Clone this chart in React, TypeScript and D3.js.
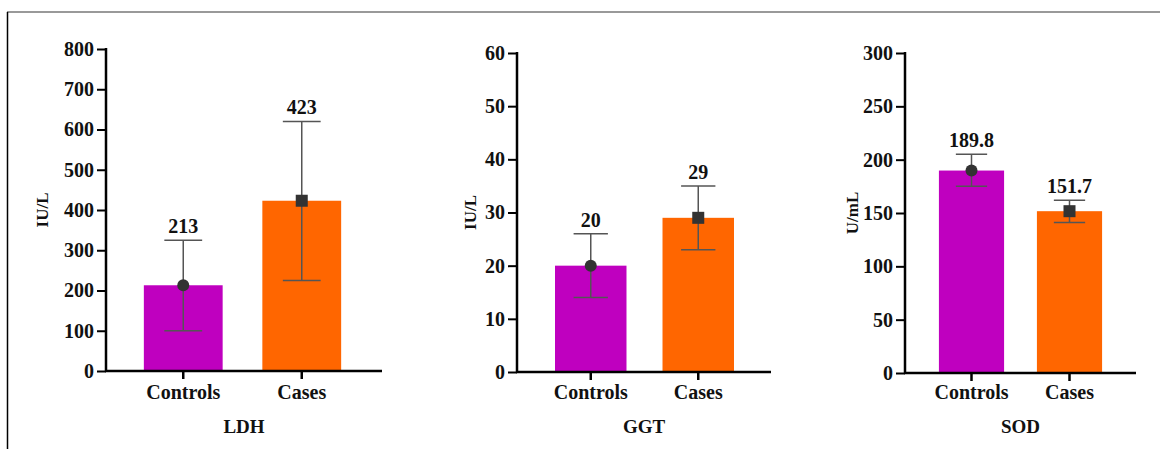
import React, { useEffect, useRef } from "react";
import * as d3 from "d3";

const categories = ["Controls", "Cases"];
const panelTitles = ["LDH", "GGT", "SOD"];
const yLabels = ["IU/L", "IU/L", "U/mL"];
const yMax = [800, 60, 300];
const yStep = [100, 10, 50];
const meanValues = [
  [213, 423],
  [20, 29],
  [189.8, 151.7],
];
const valueLabels = [
  ["213", "423"],
  ["20", "29"],
  ["189.8", "151.7"],
];
const upperValues = [
  [325, 620],
  [26, 35],
  [205, 162],
];
const lowerValues = [
  [100, 225],
  [14, 23],
  [175, 141],
];
const barColors = ["#BF00BF", "#FF6600"];

// layout (pixels)
const layouts = [
  { axisX: 106, xEnd: 382, yTop: 49, y0: 371, band: [124, 361], ylx: 48 },
  { axisX: 517, xEnd: 771, yTop: 53, y0: 372, band: [537, 752], ylx: 476 },
  { axisX: 905, xEnd: 1136, yTop: 53, y0: 373, band: [922.5, 1118.5], ylx: 858 },
];

const FONT = "Liberation Serif, Tinos, Times New Roman, serif";

export default function App() {
  const ref = useRef<SVGSVGElement | null>(null);

  useEffect(() => {
    const svg = d3.select(ref.current);
    svg.selectAll("*").remove();

    // frame
    svg.append("line").attr("x1", 7).attr("x2", 1160).attr("y1", 12).attr("y2", 12)
      .attr("stroke", "#777").attr("stroke-width", 1.5);
    svg.append("line").attr("x1", 7.5).attr("x2", 7.5).attr("y1", 12).attr("y2", 449)
      .attr("stroke", "#000").attr("stroke-width", 1.5);

    layouts.forEach((L, p) => {
      const g = svg.append("g");
      const y = d3.scaleLinear().domain([0, yMax[p]]).range([L.y0, L.yTop]);
      const x = d3.scaleBand<string>().domain(categories).range(L.band as [number, number])
        .paddingInner(0.335).paddingOuter(0.1675);
      const bw = x.bandwidth();

      // bars
      categories.forEach((c, i) => {
        g.append("rect")
          .attr("x", x(c)!)
          .attr("y", y(meanValues[p][i]))
          .attr("width", bw)
          .attr("height", L.y0 - y(meanValues[p][i]))
          .attr("fill", barColors[i]);
      });

      // error bars
      categories.forEach((c, i) => {
        const cx = x(c)! + bw / 2;
        const cap = bw * 0.24;
        const yu = y(upperValues[p][i]);
        const yl = y(lowerValues[p][i]);
        const col = "#555";
        g.append("line").attr("x1", cx).attr("x2", cx).attr("y1", yu).attr("y2", yl)
          .attr("stroke", col).attr("stroke-width", 1.5);
        g.append("line").attr("x1", cx - cap).attr("x2", cx + cap).attr("y1", yu).attr("y2", yu)
          .attr("stroke", col).attr("stroke-width", 1.5);
        g.append("line").attr("x1", cx - cap).attr("x2", cx + cap).attr("y1", yl).attr("y2", yl)
          .attr("stroke", col).attr("stroke-width", 1.5);
        const ym = y(meanValues[p][i]);
        if (i === 0) {
          g.append("circle").attr("cx", cx).attr("cy", ym).attr("r", 6).attr("fill", "#333");
        } else {
          g.append("rect").attr("x", cx - 6).attr("y", ym - 6).attr("width", 12).attr("height", 12)
            .attr("fill", "#333");
        }
        g.append("text")
          .attr("x", cx)
          .attr("y", yu - 7)
          .attr("text-anchor", "middle")
          .style("font-family", FONT)
          .attr("font-weight", "bold")
          .attr("font-size", 20)
          .attr("fill", "#111")
          .text(valueLabels[p][i]);
      });

      // y axis
      const ticks = d3.range(0, yMax[p] + yStep[p] / 2, yStep[p]);
      const yAxis = d3.axisLeft(y).tickValues(ticks).tickSize(9).tickPadding(3).tickFormat(d3.format("d"));
      const ya = g.append("g").attr("transform", `translate(${L.axisX},0)`).call(yAxis);
      ya.attr("font-family", null);
      ya.select(".domain").attr("stroke", "#000").attr("stroke-width", 2.5)
        .attr("d", `M0,${L.yTop - 1}V${L.y0}`);
      ya.selectAll(".tick line").attr("stroke", "#000").attr("stroke-width", 2);
      ya.selectAll(".tick text").style("font-family", FONT).attr("font-weight", "bold")
        .attr("font-size", 20).attr("fill", "#111");

      // x axis
      g.append("line").attr("x1", L.axisX - 1).attr("x2", L.xEnd).attr("y1", L.y0).attr("y2", L.y0)
        .attr("stroke", "#000").attr("stroke-width", 2.5);
      categories.forEach((c) => {
        const cx = x(c)! + bw / 2;
        g.append("line").attr("x1", cx).attr("x2", cx).attr("y1", L.y0).attr("y2", L.y0 + 8)
          .attr("stroke", "#000").attr("stroke-width", 2.5);
        g.append("text").attr("x", cx).attr("y", 399).attr("text-anchor", "middle")
          .style("font-family", FONT).attr("font-weight", "bold").attr("font-size", 20)
          .attr("fill", "#111").text(c);
      });

      // panel title
      g.append("text").attr("x", (L.axisX + L.xEnd) / 2).attr("y", 433).attr("text-anchor", "middle")
        .style("font-family", FONT).attr("font-weight", "bold").attr("font-size", 19)
        .attr("fill", "#111").text(panelTitles[p]);

      // y label
      g.append("text")
        .attr("transform", `translate(${L.ylx},${(L.yTop + L.y0) / 2}) rotate(-90)`)
        .attr("text-anchor", "middle")
        .style("font-family", FONT).attr("font-weight", "bold").attr("font-size", 17)
        .attr("fill", "#111").text(yLabels[p]);
    });
  }, []);

  return (
    <div style={{ position: "absolute", left: 0, top: 0 }}>
      <svg ref={ref} width={1160} height={449} style={{ display: "block", background: "#fff" }} />
    </div>
  );
}
